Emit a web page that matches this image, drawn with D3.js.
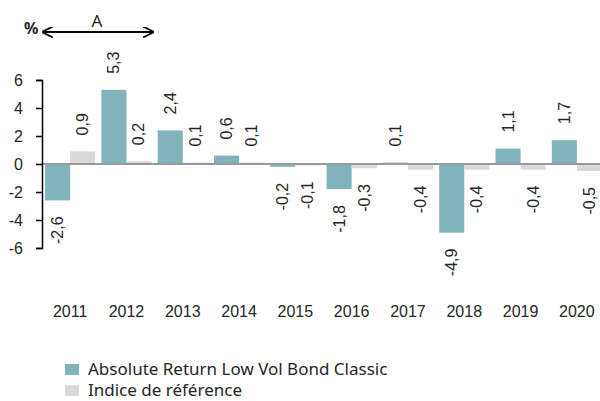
<!DOCTYPE html>
<html>
<head>
<meta charset="utf-8">
<script src="https://cdn.jsdelivr.net/npm/d3@7"></script>
<style>
  body { margin: 0; background: #fff; }
  svg { display: block; }
  .num { font-family: "Liberation Sans", Arial, sans-serif; fill: #262626; }
  .leg { font-family: "Noto Sans", sans-serif; fill: #262626; }
</style>
</head>
<body>
<div id="chart"></div>
<script>
const years = ["2011", "2012", "2013", "2014", "2015", "2016", "2017", "2018", "2019", "2020"];
const fund = [-2.6, 5.3, 2.4, 0.6, -0.2, -1.8, 0.1, -4.9, 1.1, 1.7];
const benchmark = [0.9, 0.2, 0.1, 0.1, -0.1, -0.3, -0.4, -0.4, -0.4, -0.5];
const seriesNames = ["Absolute Return Low Vol Bond Classic", "Indice de référence"];
const seriesColors = ["#80b3ba", "#d9d9d9"];
const yTicks = [-6, -4, -2, 0, 2, 4, 6];

const width = 600, height = 401;

const svg = d3.select("#chart")
  .append("svg")
  .attr("width", width)
  .attr("height", height);

const x0 = d3.scaleBand()
  .domain(years)
  .range([42, 605])
  .paddingInner(0.11)
  .paddingOuter(0.055);

const x1 = d3.scaleBand()
  .domain([0, 1])
  .range([0, x0.bandwidth()]);

const y = d3.scaleLinear().domain([-6, 6]).range([248, 80]);

// french decimal comma, plain hyphen for negatives
const fmt = v => d3.format(".1f")(v).replace(".", ",").replace("\u2212", "-");

const rows = years.map((yr, i) => ({ year: yr, values: [fund[i], benchmark[i]] }));

// bars
const groups = svg.append("g")
  .selectAll("g")
  .data(rows)
  .join("g")
    .attr("transform", d => `translate(${x0(d.year)},0)`);

groups.selectAll("rect")
  .data(d => d.values.map((v, k) => ({ v, k })))
  .join("rect")
    .attr("x", d => x1(d.k))
    .attr("y", d => y(Math.max(0, d.v)))
    .attr("width", x1.bandwidth())
    .attr("height", d => Math.abs(y(d.v) - y(0)))
    .attr("fill", d => seriesColors[d.k]);

// value labels, rotated
groups.selectAll("text")
  .data(d => d.values.map((v, k) => ({ v, k })))
  .join("text")
    .attr("class", "num")
    .attr("font-size", 16)
    .attr("dominant-baseline", "central")
    .attr("text-anchor", d => d.v >= 0 ? "start" : "end")
    .attr("transform", d => {
      const cx = x1(d.k) + x1.bandwidth() / 2;
      const cy = d.v >= 0 ? y(d.v) - 16 : y(d.v) + 16;
      return `translate(${cx},${cy}) rotate(-90)`;
    })
    .text(d => fmt(d.v));

// zero line
svg.append("line")
  .attr("x1", 42).attr("x2", width)
  .attr("y1", y(0)).attr("y2", y(0))
  .attr("stroke", "#999")
  .attr("stroke-width", 2);

// y axis
const yAxis = svg.append("g")
  .attr("transform", "translate(42,0)")
  .call(d3.axisLeft(y).tickValues(yTicks).tickSize(6).tickPadding(13).tickFormat(d => fmt(d).replace(",0", "")));
yAxis.select(".domain").attr("stroke", "#000").attr("stroke-width", 1.5);
yAxis.selectAll(".tick line").attr("stroke", "#000").attr("stroke-width", 1.5);
yAxis.selectAll(".tick text")
  .attr("class", "num")
  .attr("font-size", 16)
  .attr("fill", "#262626");

// x labels
svg.append("g")
  .selectAll("text")
  .data(years)
  .join("text")
    .attr("class", "num")
    .attr("font-size", 16)
    .attr("text-anchor", "middle")
    .attr("x", d => x0(d) + x0.bandwidth() / 2)
    .attr("y", 317)
    .text(d => d);

// header: % and arrow with A
svg.append("text")
  .attr("class", "leg")
  .attr("x", 24).attr("y", 34)
  .attr("font-size", 16)
  .attr("font-weight", "bold")
  .text("%");

const defs = svg.append("defs");
defs.append("marker")
  .attr("id", "ah")
  .attr("viewBox", "0 0 10 10")
  .attr("refX", 9).attr("refY", 5)
  .attr("markerWidth", 11).attr("markerHeight", 11)
  .attr("markerUnits", "userSpaceOnUse")
  .attr("orient", "auto-start-reverse")
  .append("path")
    .attr("d", "M0,0 L10,5 L0,10")
    .attr("fill", "none")
    .attr("stroke", "#000")
    .attr("stroke-width", 1.6);

svg.append("line")
  .attr("x1", 43).attr("x2", 153)
  .attr("y1", 32).attr("y2", 32)
  .attr("stroke", "#000")
  .attr("stroke-width", 2)
  .attr("marker-start", "url(#ah)")
  .attr("marker-end", "url(#ah)");

svg.append("text")
  .attr("class", "leg")
  .attr("x", 97).attr("y", 27)
  .attr("text-anchor", "middle")
  .attr("font-size", 17)
  .text("A");

// legend
const legend = svg.append("g")
  .selectAll("g")
  .data(seriesNames)
  .join("g")
    .attr("transform", (d, i) => `translate(65,${364 + i * 21})`);

legend.append("rect")
  .attr("width", 14).attr("height", 11)
  .attr("fill", (d, i) => seriesColors[i]);

legend.append("text")
  .attr("class", "leg")
  .attr("x", 23).attr("y", 11)
  .attr("font-size", 17)
  .text(d => d);
</script>
</body>
</html>
